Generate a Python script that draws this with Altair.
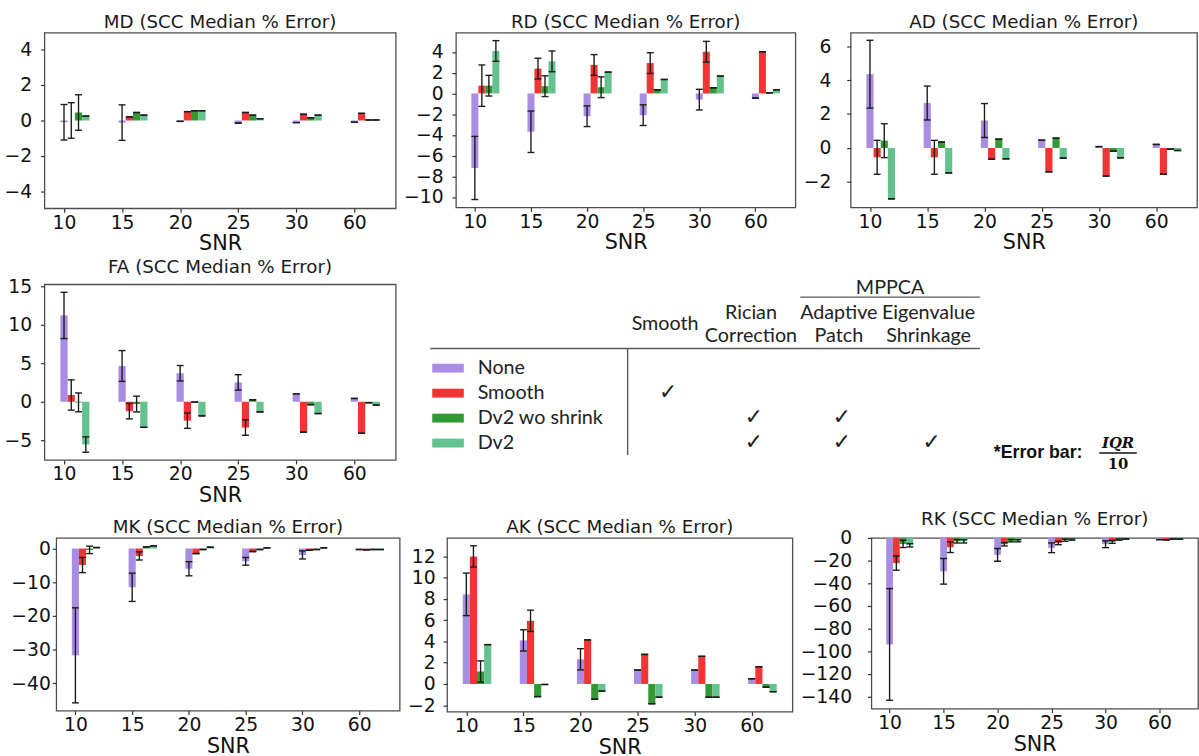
import json
import altair as alt
import pandas as pd

SNR_LABELS = ["10", "15", "20", "25", "30", "60"]
METHODS = ["None", "Smooth", "Dv2 wo shrink", "Dv2"]
COLORS = ["#a98de2", "#f23434", "#339933", "#63c28d"]

# Median % error per method (rows follow METHODS, columns follow SNR_LABELS)
MD_VALUES = [[-0.10, -0.12, -0.05, -0.15, -0.12, -0.10],
             [0.00, 0.20, 0.50, 0.45, 0.35, 0.40],
             [0.45, 0.45, 0.55, 0.30, 0.15, 0.03],
             [0.25, 0.30, 0.55, 0.10, 0.30, 0.03]]
MD_ERRORS = [[1.0, 1.0, 0, 0, 0, 0],
             [1.0, 0, 0, 0, 0, 0],
             [1.0, 0, 0, 0, 0, 0],
             [0, 0, 0, 0, 0, 0]]

RD_VALUES = [[-7.20, -3.70, -2.20, -2.10, -0.60, -0.45],
             [0.75, 2.40, 2.75, 2.93, 4.03, 4.03],
             [0.75, 0.70, 0.60, 0.35, 0.55, 0.06],
             [4.10, 3.10, 2.06, 1.35, 1.68, 0.35]]
RD_ERRORS = [[3.05, 2.0, 1.0, 1.0, 1.0, 0],
             [2.0, 1.0, 1.0, 1.0, 1.0, 0],
             [1.0, 1.0, 1.0, 0, 0, 0],
             [1.0, 1.0, 0, 0, 0, 0]]

AD_VALUES = [[4.35, 2.65, 1.62, 0.46, 0.08, 0.21],
             [-0.55, -0.55, -0.66, -1.41, -1.66, -1.55],
             [0.43, 0.35, 0.52, 0.58, -0.19, -0.08],
             [-3.00, -1.47, -0.64, -0.60, -0.58, -0.15]]
AD_ERRORS = [[2.0, 1.0, 1.0, 0, 0, 0],
             [1.0, 1.0, 0, 0, 0, 0],
             [1.0, 0, 0, 0, 0, 0],
             [0, 0, 0, 0, 0, 0]]

FA_VALUES = [[11.20, 4.64, 3.70, 2.51, 1.02, 0.43],
             [0.88, -1.22, -2.45, -3.35, -3.96, -4.09],
             [-0.08, -0.30, -0.04, 0.25, -0.38, -0.13],
             [-5.55, -3.32, -1.83, -1.32, -1.53, -0.43]]
FA_ERRORS = [[3.0, 2.0, 1.0, 1.0, 0, 0],
             [1.96, 1.0, 1.0, 1.0, 0, 0],
             [1.22, 1.02, 0, 0, 0, 0],
             [1.0, 0, 0, 0, 0, 0]]

MK_VALUES = [[-31.7, -11.5, -6.0, -3.8, -1.9, -0.3],
             [-4.9, -2.2, -1.5, -0.9, -0.5, -0.4],
             [-0.4, 0.5, -0.3, -0.3, -0.3, -0.3],
             [0.3, 0.8, 0.4, 0.2, 0.2, -0.3]]
MK_ERRORS = [[14.1, 4.2, 2.1, 1.15, 1.2, 0],
             [2.25, 1.2, 0, 0, 0, 0],
             [1.1, 0, 0, 0, 0, 0],
             [0, 0, 0, 0, 0, 0]]

AK_VALUES = [[8.43, 4.10, 2.32, 1.31, 1.31, 0.49],
             [12.00, 5.94, 4.15, 2.78, 2.60, 1.62],
             [1.17, -1.19, -1.44, -1.86, -1.25, -0.30],
             [3.70, -0.05, -0.67, -1.25, -1.25, -0.73]]
AK_ERRORS = [[2.0, 1.0, 1.0, 0, 0, 0],
             [1.0, 1.0, 0, 0, 0, 0],
             [1.0, 0, 0, 0, 0, 0],
             [0, 0, 0, 0, 0, 0]]

RK_VALUES = [[-94.0, -29.5, -15.0, -8.7, -5.6, -1.5],
             [-22.2, -8.2, -5.6, -4.5, -3.5, -1.8],
             [-5.3, -3.0, -2.5, -2.0, -1.5, -1.0],
             [-6.5, -3.0, -2.5, -1.5, -1.0, -1.0]]
RK_ERRORS = [[49.3, 11.3, 5.6, 4.3, 3.0, 0],
             [6.3, 4.7, 1.5, 1.5, 1.3, 0],
             [3.2, 1.5, 1.0, 1.0, 0.5, 0],
             [1.5, 1.5, 1.0, 0.5, 0, 0]]

# Preprocessing steps applied by each method (legend table)
STEP_HEADERS = [["Smooth"], ["Rician", "Correction"], ["Adaptive", "Patch"],
                ["Eigenvalue", "Shrinkage"]]
STEP_GROUP = "MPPCA"
STEP_CHECKS = [[0, 0, 0, 0],
               [1, 0, 0, 0],
               [0, 1, 1, 0],
               [0, 1, 1, 1]]

BAR_W = 0.125
X_DOMAIN = [-0.3375, 5.7125]
INK = "#1c1c1c"
FONT = "DejaVu Sans"
TABLE_FONT = "Lato"


def panel(title, values, errors, y_domain, y_ticks, width, height, label_pad):
    rows = []
    for k, method in enumerate(METHODS):
        for i, snr in enumerate(SNR_LABELS):
            v = values[k][i]
            e = errors[k][i]
            xc = i + k * BAR_W
            rows.append(dict(method=method, snr=snr, xc=xc,
                             x0=xc - BAR_W / 2, x1=xc + BAR_W / 2,
                             value=v, zero=0.0, lo=v - e, hi=v + e))
    df = pd.DataFrame(rows)
    xs = alt.Scale(domain=X_DOMAIN, nice=False, zero=False)
    ys = alt.Scale(domain=y_domain, nice=False, zero=False)
    x_axis = alt.Axis(values=list(range(len(SNR_LABELS))),
                      labelExpr=json.dumps(SNR_LABELS) + "[datum.value]",
                      title="SNR")
    y_axis = alt.Axis(values=y_ticks, title=None, labelPadding=label_pad)
    base = alt.Chart(df)
    bars = base.mark_bar().encode(
        x=alt.X("x0:Q", scale=xs, axis=x_axis),
        x2="x1:Q",
        y=alt.Y("value:Q", scale=ys, axis=y_axis),
        y2="zero:Q",
        color=alt.Color("method:N",
                        scale=alt.Scale(domain=METHODS, range=COLORS),
                        legend=None),
    )
    whiskers = base.mark_rule(color=INK, strokeWidth=1.4).encode(
        x=alt.X("xc:Q", scale=xs, axis=x_axis),
        y=alt.Y("lo:Q", scale=ys, axis=y_axis),
        y2="hi:Q",
    )
    caps = []
    for field in ("lo", "hi"):
        caps.append(base.mark_tick(orient="horizontal", size=7, thickness=1.4,
                                   color=INK, opacity=1).encode(
            x=alt.X("xc:Q", scale=xs, axis=x_axis),
            y=alt.Y(field + ":Q", scale=ys, axis=y_axis),
        ))
    return alt.layer(bars, whiskers, *caps).properties(
        width=width, height=height,
        title=alt.TitleParams(title, offset=1),
    )


def legend_table(width, height):
    # layout of the table inside its own view, in pixels from its top-left
    swatch_x0, swatch_x1, label_x = 30, 62, 76
    row_y0, row_step = 85, 25.3
    col_x = [266, 353, 442, 533]
    check_dx = 3
    header_y = [29, 52]
    rule_y, rule_x0, rule_x1 = 65, 28, 585
    divider_x, divider_y1 = 228, 173
    group_y, group_x0 = 4, 403
    group_rule_y = 13

    row_y = [row_y0 + i * row_step for i in range(len(METHODS))]
    xs = alt.Scale(domain=[0, width], nice=False, zero=False)
    ys = alt.Scale(domain=[0, height], nice=False, zero=False, reverse=True)

    def X(f):
        return alt.X(f, scale=xs, axis=None)

    def Y(f):
        return alt.Y(f, scale=ys, axis=None)

    sw = pd.DataFrame(dict(method=METHODS, x0=swatch_x0, x1=swatch_x1,
                           y0=[y - 4.5 for y in row_y], y1=[y + 4.5 for y in row_y],
                           lx=label_x, y=row_y))
    swatches = alt.Chart(sw).mark_rect().encode(
        x=X("x0:Q"), x2="x1:Q", y=Y("y0:Q"), y2="y1:Q",
        color=alt.Color("method:N", scale=alt.Scale(domain=METHODS, range=COLORS),
                        legend=None))
    labels = alt.Chart(sw).mark_text(align="left", baseline="middle",
                                     font=TABLE_FONT, fontSize=20,
                                     color="#222").encode(
        x=X("lx:Q"), y=Y("y:Q"), text="method:N")

    hdr_rows = []
    for c, lines in enumerate(STEP_HEADERS):
        if len(lines) == 1:
            hdr_rows.append(dict(t=lines[0], x=col_x[c], y=sum(header_y) / 2))
        else:
            for j, t in enumerate(lines):
                hdr_rows.append(dict(t=t, x=col_x[c], y=header_y[j]))
    hdr_rows.append(dict(t=STEP_GROUP, x=(group_x0 + rule_x1) / 2, y=group_y))
    headers = alt.Chart(pd.DataFrame(hdr_rows)).mark_text(
        align="center", baseline="middle", font=TABLE_FONT, fontSize=20,
        color="#222").encode(x=X("x:Q"), y=Y("y:Q"), text="t:N")

    chk = [dict(x=col_x[c] + check_dx, y=row_y[r] - 1)
           for r in range(len(METHODS)) for c in range(len(STEP_HEADERS))
           if STEP_CHECKS[r][c]]
    checks = alt.Chart(pd.DataFrame(chk)).mark_text(
        text="\u2713", align="center", baseline="middle", font=FONT,
        fontSize=22, color="#222").encode(x=X("x:Q"), y=Y("y:Q"))

    rules_df = pd.DataFrame([
        dict(x0=rule_x0, x1=rule_x1, y0=rule_y, y1=rule_y),
        dict(x0=group_x0, x1=rule_x1, y0=group_rule_y, y1=group_rule_y),
        dict(x0=divider_x, x1=divider_x, y0=rule_y, y1=divider_y1),
    ])
    rules = alt.Chart(rules_df).mark_rule(color="#5a5a5a", strokeWidth=1.4).encode(
        x=X("x0:Q"), x2="x1:Q", y=Y("y0:Q"), y2="y1:Q")

    # note on the error bars: IQR / 10
    note_y = 171
    note = alt.Chart(pd.DataFrame([dict(x=599, y=note_y, t="*Error bar:")])).mark_text(
        align="left", baseline="middle", font="Liberation Sans", fontWeight="bold",
        fontSize=18, color="#111").encode(x=X("x:Q"), y=Y("y:Q"), text="t:N")
    frac_x = 725
    frac = alt.Chart(pd.DataFrame([dict(x=frac_x, y=note_y - 10, t="IQR")])).mark_text(
        align="center", baseline="middle", font="DejaVu Serif", fontWeight="bold",
        fontStyle="italic", fontSize=15, color="#111").encode(
        x=X("x:Q"), y=Y("y:Q"), text="t:N")
    frac_den = alt.Chart(pd.DataFrame([dict(x=frac_x, y=note_y + 11, t="10")])).mark_text(
        align="center", baseline="middle", font="DejaVu Serif", fontWeight="bold",
        fontSize=15, color="#111").encode(x=X("x:Q"), y=Y("y:Q"), text="t:N")
    frac_bar = alt.Chart(pd.DataFrame([dict(x0=frac_x - 19, x1=frac_x + 19,
                                            y=note_y)])).mark_rule(
        color="#111", strokeWidth=1.5).encode(x=X("x0:Q"), x2="x1:Q", y=Y("y:Q"))

    return alt.layer(rules, swatches, labels, headers, checks, note, frac,
                     frac_den, frac_bar).properties(
        width=width, height=height, view=alt.ViewBackground(strokeOpacity=0))


md = panel("MD (SCC Median % Error)", MD_VALUES, MD_ERRORS, [-4.95, 4.95],
           [-4, -2, 0, 2, 4], 356, 178, 9)
rd = panel("RD (SCC Median % Error)", RD_VALUES, RD_ERRORS, [-11.0, 5.87],
           [-10, -8, -6, -4, -2, 0, 2, 4], 344, 177, 9)
ad = panel("AD (SCC Median % Error)", AD_VALUES, AD_ERRORS, [-3.5, 6.8],
           [-2, 0, 2, 4, 6], 351, 177, 16)
fa = panel("FA (SCC Median % Error)", FA_VALUES, FA_ERRORS, [-7.55, 15.24],
           [-5, 0, 5, 10, 15], 356, 178, 9)
mk = panel("MK (SCC Median % Error)", MK_VALUES, MK_ERRORS, [-48.1, 3.15],
           [-40, -30, -20, -10, 0], 348, 175, 2)
ak = panel("AK (SCC Median % Error)", AK_VALUES, AK_ERRORS, [-2.6, 13.74],
           [-2, 0, 2, 4, 6, 8, 10, 12], 350, 176, 8)
rk = panel("RK (SCC Median % Error)", RK_VALUES, RK_ERRORS, [-150.7, 0],
           [-140, -120, -100, -80, -60, -40, -20, 0], 331, 173, 16)

table = legend_table(795, 195)

# thin empty column that lets the MK panel sit a little further right
spacer = alt.Chart(pd.DataFrame({"v": [0]})).mark_rule(opacity=0).encode(
    x=alt.value(0), y=alt.value(0), y2=alt.value(1)
).properties(width=1, height=175, view=alt.ViewBackground(strokeOpacity=0))

row1 = alt.hconcat(md, rd, ad, spacing=6)
row2 = alt.hconcat(fa, table, spacing=6)
row3 = alt.hconcat(alt.hconcat(spacer, mk, spacing=-36), ak, rk, spacing=6)

chart = alt.vconcat(row1, row2, row3, spacing=2).properties(
    padding={"left": 3, "top": 7, "right": 0, "bottom": 0},
    background="white",
).configure_view(
    stroke="#4d4d4d", strokeWidth=1.3,
).configure_axis(
    grid=False, domain=False,
    labelFont=FONT, labelFontSize=19, labelColor="#111",
    titleFont=FONT, titleFontSize=21, titleFontWeight="normal", titleColor="#111",
    tickColor="#333", tickSize=4, tickWidth=1.2,
).configure_axisX(
    labelPadding=1, titlePadding=1,
).configure_title(
    font=FONT, fontSize=18.5, fontWeight="normal", color="#1a1a1a", anchor="middle",
)

chart.save("out.html", embed_options={"renderer": "svg", "actions": False})
